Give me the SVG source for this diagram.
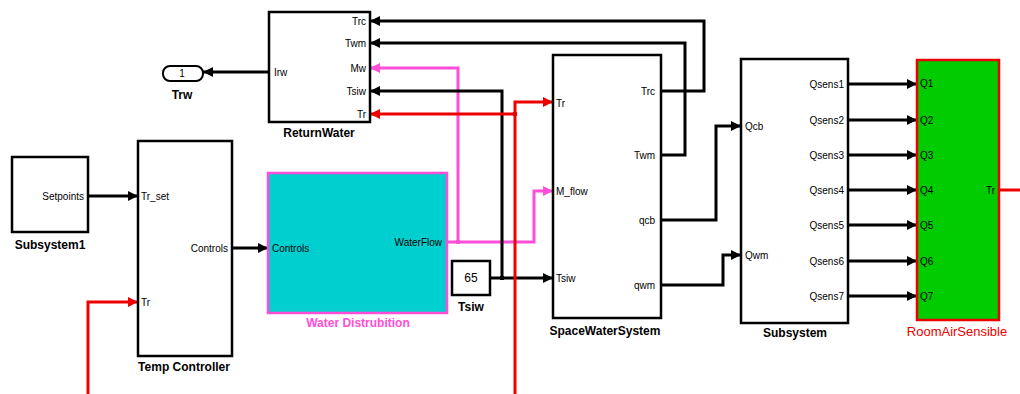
<svg xmlns="http://www.w3.org/2000/svg" width="1020" height="394" viewBox="0 0 1020 394">
<style>
.blk{fill:#fff;stroke:#000;stroke-width:2.5}
.ln{fill:none;stroke:#000;stroke-width:3}
.lr{fill:none;stroke:#e00;stroke-width:3}
.lp{fill:none;stroke:#ff4fd8;stroke-width:3}
text{font-family:"Liberation Sans",Arial,sans-serif}
.pl{font-size:10px;fill:#000}
.pr{font-size:10px;fill:#000;text-anchor:end}
.lb{font-size:12px;font-weight:bold;fill:#000;text-anchor:middle}
</style>
<defs>
<marker id="ak" viewBox="0 0 10 10" refX="10" refY="5" markerWidth="11" markerHeight="10" markerUnits="userSpaceOnUse" orient="auto"><path d="M0,0 L10,5 L0,10 z" fill="#000"/></marker>
<marker id="ar" viewBox="0 0 10 10" refX="10" refY="5" markerWidth="11" markerHeight="10" markerUnits="userSpaceOnUse" orient="auto"><path d="M0,0 L10,5 L0,10 z" fill="#e00"/></marker>
<marker id="ap" viewBox="0 0 10 10" refX="10" refY="5" markerWidth="11" markerHeight="10" markerUnits="userSpaceOnUse" orient="auto"><path d="M0,0 L10,5 L0,10 z" fill="#ff4fd8"/></marker>
</defs>

<g id="connectors">
<path class="ln" d="M88,196 H138" marker-end="url(#ak)"/>
<path class="ln" d="M232,248 H268" marker-end="url(#ak)"/>
<path class="lr" d="M88,394 V302 H138" marker-end="url(#ar)"/>
<path class="ln" d="M269,72 H203" marker-end="url(#ak)"/>
<path class="ln" d="M661,91 H704 V21 H370" marker-end="url(#ak)"/>
<path class="ln" d="M661,155 H685 V43 H370" marker-end="url(#ak)"/>
<path class="lp" d="M447,242 H534 V191 H553" marker-end="url(#ap)"/>
<path class="lp" d="M458,242 V68 H370" marker-end="url(#ap)"/>
<rect x="456" y="240" width="4" height="4" fill="#ff4fd8"/>
<path class="ln" d="M490,278 H553" marker-end="url(#ak)"/>
<path class="ln" d="M502,278 V91 H370" marker-end="url(#ak)"/>
<rect x="500" y="276" width="4" height="4" fill="#000"/>
<path class="lr" d="M515,394 V102 H553" marker-end="url(#ar)"/>
<path class="lr" d="M515,114 H370" marker-end="url(#ar)"/>
<rect x="513" y="112" width="4" height="4" fill="#e00"/>
<path class="ln" d="M661,220 H716 V126 H741" marker-end="url(#ak)"/>
<path class="ln" d="M661,285 H723 V255 H741" marker-end="url(#ak)"/>
<path class="ln" d="M848,84 H917" marker-end="url(#ak)"/>
<path class="ln" d="M848,120 H917" marker-end="url(#ak)"/>
<path class="ln" d="M848,155 H917" marker-end="url(#ak)"/>
<path class="ln" d="M848,190 H917" marker-end="url(#ak)"/>
<path class="ln" d="M848,225 H917" marker-end="url(#ak)"/>
<path class="ln" d="M848,261 H917" marker-end="url(#ak)"/>
<path class="ln" d="M848,296 H917" marker-end="url(#ak)"/>
<path class="lr" d="M999,190 H1020"/>
</g>

<g id="Subsystem1">
<rect class="blk" x="12" y="157" width="76" height="75"/>
<text class="pr" x="84" y="200">Setpoints</text>
<text class="lb" x="50" y="249">Subsystem1</text>
</g>

<g id="TempController">
<rect class="blk" x="138" y="141" width="94" height="215"/>
<text class="pl" x="141" y="200">Tr_set</text>
<text class="pl" x="141" y="306">Tr</text>
<text class="pr" x="228" y="252">Controls</text>
<text class="lb" x="184" y="371">Temp Controller</text>
</g>

<g id="Trw">
<rect x="163" y="66" width="40" height="15" rx="7" ry="7" fill="#fff" stroke="#000" stroke-width="2"/>
<text x="182" y="77" font-size="10" text-anchor="middle">1</text>
<text class="lb" x="182" y="99">Trw</text>
</g>

<g id="ReturnWater">
<rect class="blk" x="269" y="12" width="101" height="110"/>
<text class="pl" x="274" y="76">Irw</text>
<text class="pr" x="366" y="25">Trc</text>
<text class="pr" x="366" y="47">Twm</text>
<text class="pr" x="366" y="72">Mw</text>
<text class="pr" x="366" y="95">Tsiw</text>
<text class="pr" x="366" y="118">Tr</text>
<text class="lb" x="319" y="137">ReturnWater</text>
</g>

<g id="WaterDistrubition">
<rect x="268" y="173" width="179" height="140" fill="#00cfcf" stroke="#ff4fd8" stroke-width="2.5"/>
<text class="pl" x="272" y="252">Controls</text>
<text class="pr" x="442" y="246">WaterFlow</text>
<text class="lb" x="358" y="327" fill="#ff4fd8" style="fill:#ff4fd8">Water Distrubition</text>
</g>

<g id="Tsiw">
<rect class="blk" x="452" y="261" width="38" height="34"/>
<text x="471" y="282" font-size="12" text-anchor="middle">65</text>
<text class="lb" x="471" y="311">Tsiw</text>
</g>

<g id="SpaceWaterSystem">
<rect class="blk" x="553" y="55" width="108" height="263"/>
<text class="pl" x="556" y="107">Tr</text>
<text class="pl" x="556" y="195">M_flow</text>
<text class="pl" x="556" y="282">Tsiw</text>
<text class="pr" x="655" y="95">Trc</text>
<text class="pr" x="655" y="159">Twm</text>
<text class="pr" x="655" y="224">qcb</text>
<text class="pr" x="655" y="289">qwm</text>
<text class="lb" x="605" y="335">SpaceWaterSystem</text>
</g>

<g id="Subsystem">
<rect class="blk" x="741" y="59" width="107" height="264"/>
<text class="pl" x="745" y="130">Qcb</text>
<text class="pl" x="745" y="259">Qwm</text>
<text class="pr" x="844" y="88">Qsens1</text>
<text class="pr" x="844" y="124">Qsens2</text>
<text class="pr" x="844" y="159">Qsens3</text>
<text class="pr" x="844" y="194">Qsens4</text>
<text class="pr" x="844" y="229">Qsens5</text>
<text class="pr" x="844" y="265">Qsens6</text>
<text class="pr" x="844" y="300">Qsens7</text>
<text class="lb" x="795" y="337">Subsystem</text>
</g>

<g id="RoomAirSensible">
<rect x="917" y="60" width="82" height="260" fill="#00cc00" stroke="#e00" stroke-width="2.5"/>
<text class="pl" x="920" y="87">Q1</text>
<text class="pl" x="920" y="124">Q2</text>
<text class="pl" x="920" y="159">Q3</text>
<text class="pl" x="920" y="194">Q4</text>
<text class="pl" x="920" y="229">Q5</text>
<text class="pl" x="920" y="265">Q6</text>
<text class="pl" x="920" y="300">Q7</text>
<text class="pr" x="995" y="194">Tr</text>
<text class="lb" x="957" y="336" style="fill:#e00;font-weight:normal;font-size:13px">RoomAirSensible</text>
</g>
</svg>
